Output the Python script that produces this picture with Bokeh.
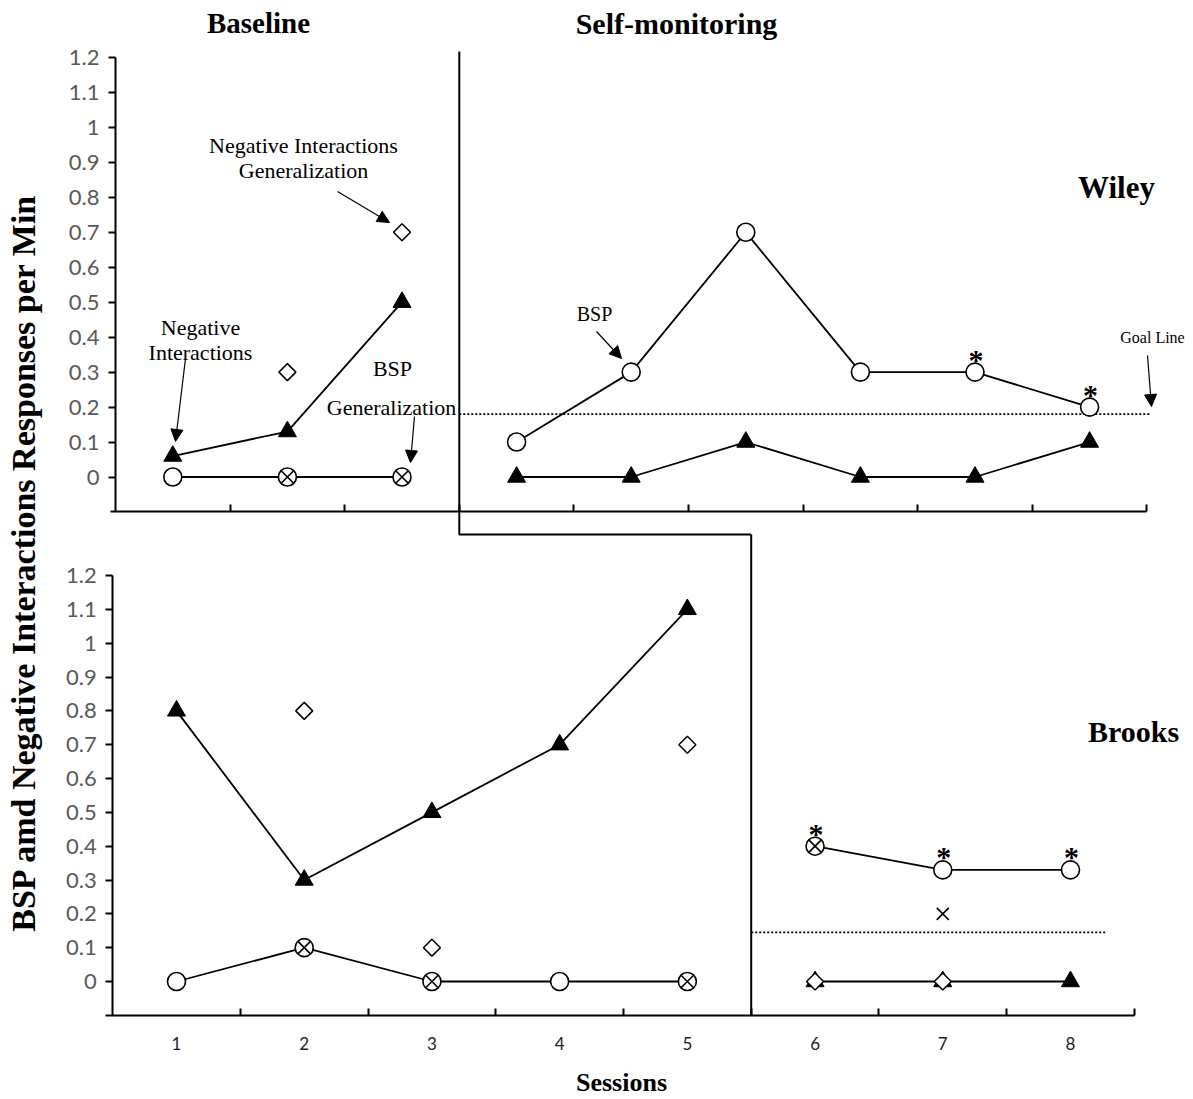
import numpy as np
from bokeh.plotting import figure
from bokeh.models import (Range1d, LinearAxis, FixedTicker, NumeralTickFormatter,
                          Label, Arrow, NormalHead)
from bokeh.core.properties import value
from bokeh.embed import file_html
from bokeh.resources import INLINE

# ---------------- data ----------------
wiley_sessions = [1, 2, 3, 4, 5, 6, 7, 8, 9]
wiley_neg = [0.06, 0.13, 0.5, 0.0, 0.0, 0.1, 0.0, 0.0, 0.1]
wiley_bsp = [0.0, 0.0, 0.0, 0.1, 0.3, 0.7, 0.3, 0.3, 0.2]
wiley_bsp_gen = [None, 0.0, 0.0, None, None, None, None, None, None]
wiley_neg_gen = [None, 0.3, 0.7, None, None, None, None, None, None]
wiley_star = [False, False, False, False, False, False, False, True, True]
wiley_phase = 3.5
wiley_goal = 0.18

brooks_sessions = [1, 2, 3, 4, 5, 6, 7, 8]
brooks_neg = [0.8, 0.3, 0.5, 0.7, 1.1, 0.0, 0.0, 0.0]
brooks_bsp = [0.0, 0.1, 0.0, 0.0, 0.0, 0.4, 0.33, 0.33]
brooks_bsp_gen = [None, 0.1, 0.0, None, 0.0, 0.4, 0.2, None]
brooks_neg_gen = [None, 0.8, 0.1, None, 0.7, 0.0, 0.0, None]
brooks_star = [False, False, False, False, False, True, True, True]
brooks_phase = 5.5
brooks_goal = 0.145

y_tick_values = [0, 0.1, 0.2, 0.3, 0.4, 0.5, 0.6, 0.7, 0.8, 0.9, 1.0, 1.1, 1.2]
wiley_boundaries = [1.5, 2.5, 3.5, 4.5, 5.5, 6.5, 7.5, 8.5, 9.5]
brooks_boundaries = [1.5, 2.5, 3.5, 4.5, 5.5, 6.5, 7.5, 8.5]
brooks_tick_labels = [1, 2, 3, 4, 5, 6, 7, 8]

# ---------------- layout (page pixel anchors) ----------------
W, H = 1193, 1096
PX0, PY0 = 0, 0
TOP = dict(x0=57.7, dx=114.6, y0=476.5, dy=349.6)
BOT = dict(x0=48.3, dx=127.71, y0=981.0, dy=338.3)


def xr(a):
    return (PX0 - a['x0']) / a['dx'], (PX0 + W - a['x0']) / a['dx']


def yr(a):
    return (a['y0'] - (PY0 + H)) / a['dy'], (a['y0'] - PY0) / a['dy']


def xt(px): return (px - TOP['x0']) / TOP['dx']
def yt(py): return (TOP['y0'] - py) / TOP['dy']
def xb(px): return (px - BOT['x0']) / BOT['dx']
def yb(py): return (BOT['y0'] - py) / BOT['dy']


p = figure(width=W, height=H, output_backend="svg", toolbar_location=None,
           x_range=Range1d(*xr(TOP)), y_range=Range1d(*yr(TOP)),
           x_axis_location=None, y_axis_location=None, min_border=0,
           outline_line_color=None, background_fill_color="white",
           border_fill_color="white")
p.grid.visible = False
p.extra_x_ranges = {"bot": Range1d(*xr(BOT))}
p.extra_y_ranges = {"bot": Range1d(*yr(BOT))}

TICK_FONT = "Lato"
SERIF = "Liberation Serif"


def style_axis(ax):
    ax.axis_line_color = "black"
    ax.axis_line_width = 2
    ax.major_tick_line_color = "black"
    ax.major_tick_line_width = 2
    ax.minor_tick_line_color = "black"
    ax.minor_tick_line_width = 2


def style_y(ax):
    style_axis(ax)
    ax.major_tick_in = 0
    ax.major_tick_out = 7
    ax.major_label_standoff = 9
    ax.major_label_text_font = TICK_FONT
    ax.major_label_text_font_size = "22px"
    ax.major_label_text_color = "#595959"


# ---- Top (Wiley) axes ----
ty = LinearAxis(fixed_location=0.5, bounds=(-0.1, 1.2),
                ticker=FixedTicker(ticks=y_tick_values),
                formatter=NumeralTickFormatter(format="0.[0]"))
style_y(ty)
p.add_layout(ty, "left")

tx = LinearAxis(fixed_location=-0.1, bounds=(xt(110), 9.5),
                ticker=FixedTicker(ticks=[], minor_ticks=wiley_boundaries))
style_axis(tx)
tx.minor_tick_in = 7
tx.minor_tick_out = 0
tx.major_tick_in = 0
tx.major_tick_out = 0
p.add_layout(tx, "below")

# ---- Bottom (Brooks) axes ----
by = LinearAxis(x_range_name="bot", y_range_name="bot", fixed_location=0.5,
                bounds=(-0.1, 1.2), ticker=FixedTicker(ticks=y_tick_values),
                formatter=NumeralTickFormatter(format="0.[0]"))
style_y(by)
p.add_layout(by, "left")

bx = LinearAxis(x_range_name="bot", y_range_name="bot", fixed_location=-0.1,
                bounds=(xb(105), 8.5),
                ticker=FixedTicker(ticks=brooks_tick_labels, minor_ticks=brooks_boundaries))
style_axis(bx)
bx.major_tick_in = 0
bx.major_tick_out = 0
bx.minor_tick_in = 7
bx.minor_tick_out = 0
bx.major_label_standoff = 22
bx.major_label_text_font = TICK_FONT
bx.major_label_text_font_size = "17px"
bx.major_label_text_color = "#222222"
p.add_layout(bx, "below")


# ---------------- helpers ----------------
def clean(vals):
    return [np.nan if v is None else v for v in vals]


def split_phase(xs, ys, phase):
    ox, oy = [], []
    prev = None
    for x, y in zip(xs, ys):
        if prev is not None and prev < phase < x:
            ox.append(np.nan)
            oy.append(np.nan)
        ox.append(x)
        oy.append(np.nan if y is None else y)
        prev = x
    return ox, oy


def draw_panel(sessions, neg, bsp, bsp_gen, neg_gen, star, phase, rkw):
    lx, ly = split_phase(sessions, neg, phase)
    p.line(lx, ly, line_color="black", line_width=1.8, **rkw)
    lx, ly = split_phase(sessions, bsp, phase)
    p.line(lx, ly, line_color="black", line_width=1.8, **rkw)
    p.scatter(sessions, neg, marker="triangle", size=18, fill_color="black",
              line_color="black", **rkw)
    p.scatter(sessions, bsp, marker="circle", size=18, fill_color="white",
              line_color="black", line_width=1.6, **rkw)
    p.scatter(sessions, clean(neg_gen), marker="square", angle=np.pi / 4, size=12,
              fill_color="white", line_color="black", line_width=1.5, **rkw)
    p.scatter(sessions, clean(bsp_gen), marker="x", size=17, line_color="black",
              line_width=1.6, **rkw)
    sx = [s for s, f in zip(sessions, star) if f]
    sy = [b for b, f in zip(bsp, star) if f]
    p.text(sx, sy, text=["*"] * len(sx), text_font=value(SERIF), text_font_style="bold",
           text_font_size="30px", text_align="center", text_baseline="middle",
           y_offset=-13, x_offset=1, text_color="black", **rkw)


# goal lines & phase lines
p.line([wiley_phase, xt(1150)], [wiley_goal, wiley_goal], line_color="black",
       line_width=1.7, line_dash="2 2")
p.line([brooks_phase, xb(1105)], [brooks_goal, brooks_goal], line_color="black",
       line_width=1.7, line_dash="2 2", x_range_name="bot", y_range_name="bot")

bot_phase_px = BOT['x0'] + BOT['dx'] * brooks_phase
p.line([wiley_phase, wiley_phase, xt(bot_phase_px)], [yt(51), yt(534), yt(534)],
       line_color="black", line_width=2)
p.line([brooks_phase, brooks_phase], [yb(534), -0.1], line_color="black", line_width=2,
       x_range_name="bot", y_range_name="bot")

draw_panel(wiley_sessions, wiley_neg, wiley_bsp, wiley_bsp_gen, wiley_neg_gen,
           wiley_star, wiley_phase, {})
draw_panel(brooks_sessions, brooks_neg, brooks_bsp, brooks_bsp_gen, brooks_neg_gen,
           brooks_star, brooks_phase, dict(x_range_name="bot", y_range_name="bot"))


# ---------------- texts ----------------
def label(text, px, py, size, bold=False, angle=0.0, font=SERIF):
    p.add_layout(Label(x=xt(px), y=yt(py), text=text, text_font=font,
                       text_font_size=size, text_font_style="bold" if bold else "normal",
                       text_align="center", text_baseline="middle", angle=angle,
                       text_color="black"))


label("Baseline", 258, 22, "29px", bold=True)
label("Self-monitoring", 676, 23, "30px", bold=True)
label("Wiley", 1116, 187, "31px", bold=True)
label("Brooks", 1133, 731, "30px", bold=True)
label("Sessions", 621, 1082, "26px", bold=True)
label("BSP amd Negative Interactions Responses per Min", 23, 562, "34px", bold=True,
      angle=np.pi / 2)

label("Negative Interactions", 303, 145, "22px")
label("Generalization", 303, 170, "22px")
label("Negative", 200, 327, "22px")
label("Interactions", 200, 352, "22px")
label("BSP", 392, 368, "22px")
label("Generalization", 391, 407, "22px")
label("BSP", 594, 313, "20px")
label("Goal Line", 1152, 337, "16px")


def arrow(x0, y0, x1, y1):
    p.add_layout(Arrow(x_start=xt(x0), y_start=yt(y0), x_end=xt(x1), y_end=yt(y1),
                       line_color="black", line_width=1.2,
                       end=NormalHead(size=12, fill_color="black", line_color="black")))


arrow(337, 191, 389, 222)
arrow(185, 358, 175, 441)
arrow(414, 416, 410, 462)
arrow(596, 331, 621, 358)
arrow(1147, 355, 1151, 406)

open("out.html", "w").write(file_html(p, INLINE))
